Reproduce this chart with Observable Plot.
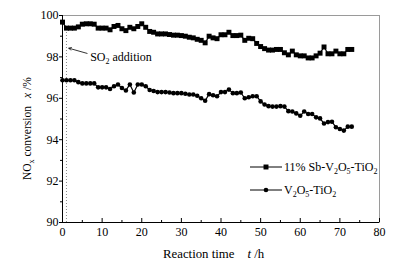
<!DOCTYPE html>
<html><head><meta charset="utf-8">
<script src="https://cdn.jsdelivr.net/npm/d3@7"></script>
<script src="https://cdn.jsdelivr.net/npm/@observablehq/plot@0.6"></script>
<style>body{margin:0;background:#fff}</style>
</head><body><div id="chart"></div>
<script>
// Reaction time (h)
const hours = [0,1,2,3,4,5,6,7,8,9,10,11,12,13,14,15,16,17,18,19,20,21,22,23,24,25,26,27,28,29,30,31,32,33,34,35,36,37,38,39,40,41,42,43,44,45,46,47,48,49,50,51,52,53,54,55,56,57,58,59,60,61,62,63,64,65,66,67,68,69,70,71,72,73];
// 11% Sb-V2O5-TiO2 NOx conversion (%)
const sbCatalyst = [99.68,99.39,99.39,99.39,99.45,99.58,99.6,99.6,99.58,99.39,99.39,99.39,99.31,99.47,99.52,99.36,99.27,99.43,99.36,99.47,99.6,99.43,99.23,99.19,99.11,99.11,99.11,99.08,99.05,99.05,99.03,99.0,98.95,98.92,98.85,98.8,98.68,99.0,98.92,98.88,99.07,99.07,99.19,99.03,99.03,99.05,98.8,98.9,98.88,98.65,98.5,98.4,98.33,98.33,98.36,98.36,98.2,98.1,98.28,98.1,98.05,98.05,97.95,97.95,98.05,98.18,98.48,98.15,98.15,98.28,98.15,98.15,98.36,98.36];
// V2O5-TiO2 NOx conversion (%)
const baseCatalyst = [96.87,96.87,96.87,96.87,96.78,96.72,96.72,96.72,96.72,96.53,96.53,96.53,96.45,96.58,96.67,96.5,96.38,96.67,96.28,96.67,96.67,96.58,96.4,96.35,96.3,96.3,96.3,96.28,96.25,96.25,96.25,96.22,96.18,96.18,96.12,96.0,95.88,96.2,96.15,96.1,96.3,96.3,96.42,96.25,96.25,96.28,96.0,96.05,96.1,96.1,95.85,95.7,95.62,95.6,95.6,95.62,95.6,95.38,95.36,95.27,95.16,95.36,95.24,95.24,95.08,95.03,94.78,94.85,94.87,94.6,94.52,94.44,94.63,94.63];
const xTicks = [0,10,20,30,40,50,60,70,80];
const xMinorTicks = [5,15,25,35,45,55,65,75];
const yTicks = [90,92,94,96,98,100];
const yMinorTicks = [91,93,95,97,99];
const so2AdditionTime = [1];
const so2Arrow = [{x1: 6.2, y1: 98.17, x2: 1.6, y2: 98.42}];

const rowsSb = hours.map((t, i) => ({t, v: sbCatalyst[i]}));
const rowsBase = hours.map((t, i) => ({t, v: baseCatalyst[i]}));

const font = "'Liberation Serif', 'Times New Roman', serif";
const svg = Plot.plot({
  width: 417, height: 267,
  marginLeft: 62, marginRight: 38, marginTop: 15, marginBottom: 45,
  style: {fontFamily: font, fontSize: "12px", color: "#000", background: "#fff", overflow: "visible"},
  x: {domain: [0, 80]},
  y: {domain: [90, 100]},
  marks: [
    Plot.frame({stroke: "#9a9a9a"}),
    Plot.ruleX(so2AdditionTime, {y1: 90, y2: 99.3, stroke: "#888", strokeDasharray: "1,2"}),
    Plot.ruleY([90], {stroke: "#000"}),
    Plot.ruleX([0], {stroke: "#000"}),
    Plot.axisX({ticks: xTicks, tickSize: 0, tickPadding: 5, label: null, fontSize: 12}),
    Plot.ruleX(xTicks, {insetTop: 203, stroke: "#000"}),
    Plot.ruleX(xMinorTicks, {insetTop: 205, stroke: "#000"}),
    Plot.axisY({ticks: yTicks, tickSize: 3, tickPadding: 1, label: null, fontSize: 12}),
    Plot.axisY({ticks: yMinorTicks, tickSize: 2, text: null, label: null}),
    Plot.line(rowsSb, {x: "t", y: "v", stroke: "#000", strokeWidth: 1.2}),
    Plot.dot(rowsSb, {x: "t", y: "v", symbol: "square", r: 2.8, fill: "#000", stroke: "none"}),
    Plot.line(rowsBase, {x: "t", y: "v", stroke: "#000", strokeWidth: 1.2}),
    Plot.dot(rowsBase, {x: "t", y: "v", symbol: "circle", r: 2.3, fill: "#000", stroke: "none"}),
    Plot.arrow(so2Arrow, {x1: "x1", y1: "y1", x2: "x2", y2: "y2", stroke: "#000", strokeWidth: 0.8, headLength: 5, bend: 0})
  ]
});
document.getElementById("chart").appendChild(svg);

const xs = svg.scale("x"), ys = svg.scale("y");
const root = d3.select(svg);

function rich(g, x, y, parts, opts = {}) {
  const size = opts.size || 12;
  const text = g.append("text").attr("x", x).attr("y", y)
    .attr("text-anchor", "start")
    .attr("font-family", font).attr("font-size", size).attr("fill", "#000");
  if (opts.transform) text.attr("transform", opts.transform);
  let shift = 0;
  for (const p of parts) {
    const ts = text.append("tspan").text(p.t);
    const target = p.sub ? 3 : 0;
    if (target !== shift) { ts.attr("dy", target - shift); shift = target; }
    if (p.sub) ts.attr("font-size", Math.round(size * 0.7));
    if (p.italic) ts.attr("font-style", "italic");
    if (p.dx) ts.attr("dx", p.dx);
  }
  return text;
}

// annotation
rich(root, xs.apply(7.1), ys.apply(97.8), [{t: "SO"}, {t: "2", sub: true}, {t: " addition"}], {size: 12});

// axis titles
rich(root, 163, 258, [{t: "Reaction time"}, {t: "t", italic: true, dx: 13}, {t: " /h"}], {size: 12.8});
rich(root, 0, 0, [{t: "NO"}, {t: "x", sub: true}, {t: " conversion"}, {t: "x", italic: true, dx: 8}, {t: " /%"}],
  {size: 11.5, transform: "translate(31,180) rotate(-90)"});

// legend
const legend = [
  {y: 167, sym: d3.symbolSquare, size: Math.PI * 2.8 * 2.8, parts: [{t: "11% Sb-V"}, {t: "2", sub: true}, {t: "O"}, {t: "5", sub: true}, {t: "-TiO"}, {t: "2", sub: true}]},
  {y: 190, sym: d3.symbolCircle, size: Math.PI * 2.3 * 2.3, parts: [{t: "V"}, {t: "2", sub: true}, {t: "O"}, {t: "5", sub: true}, {t: "-TiO"}, {t: "2", sub: true}]}
];
for (const l of legend) {
  root.append("line").attr("x1", 250).attr("x2", 282).attr("y1", l.y).attr("y2", l.y).attr("stroke", "#000");
  root.append("path").attr("d", d3.symbol(l.sym, l.size)()).attr("transform", `translate(266,${l.y})`).attr("fill", "#000");
  rich(root, 284, l.y + 4, l.parts, {size: 12});
}
</script></body></html>
